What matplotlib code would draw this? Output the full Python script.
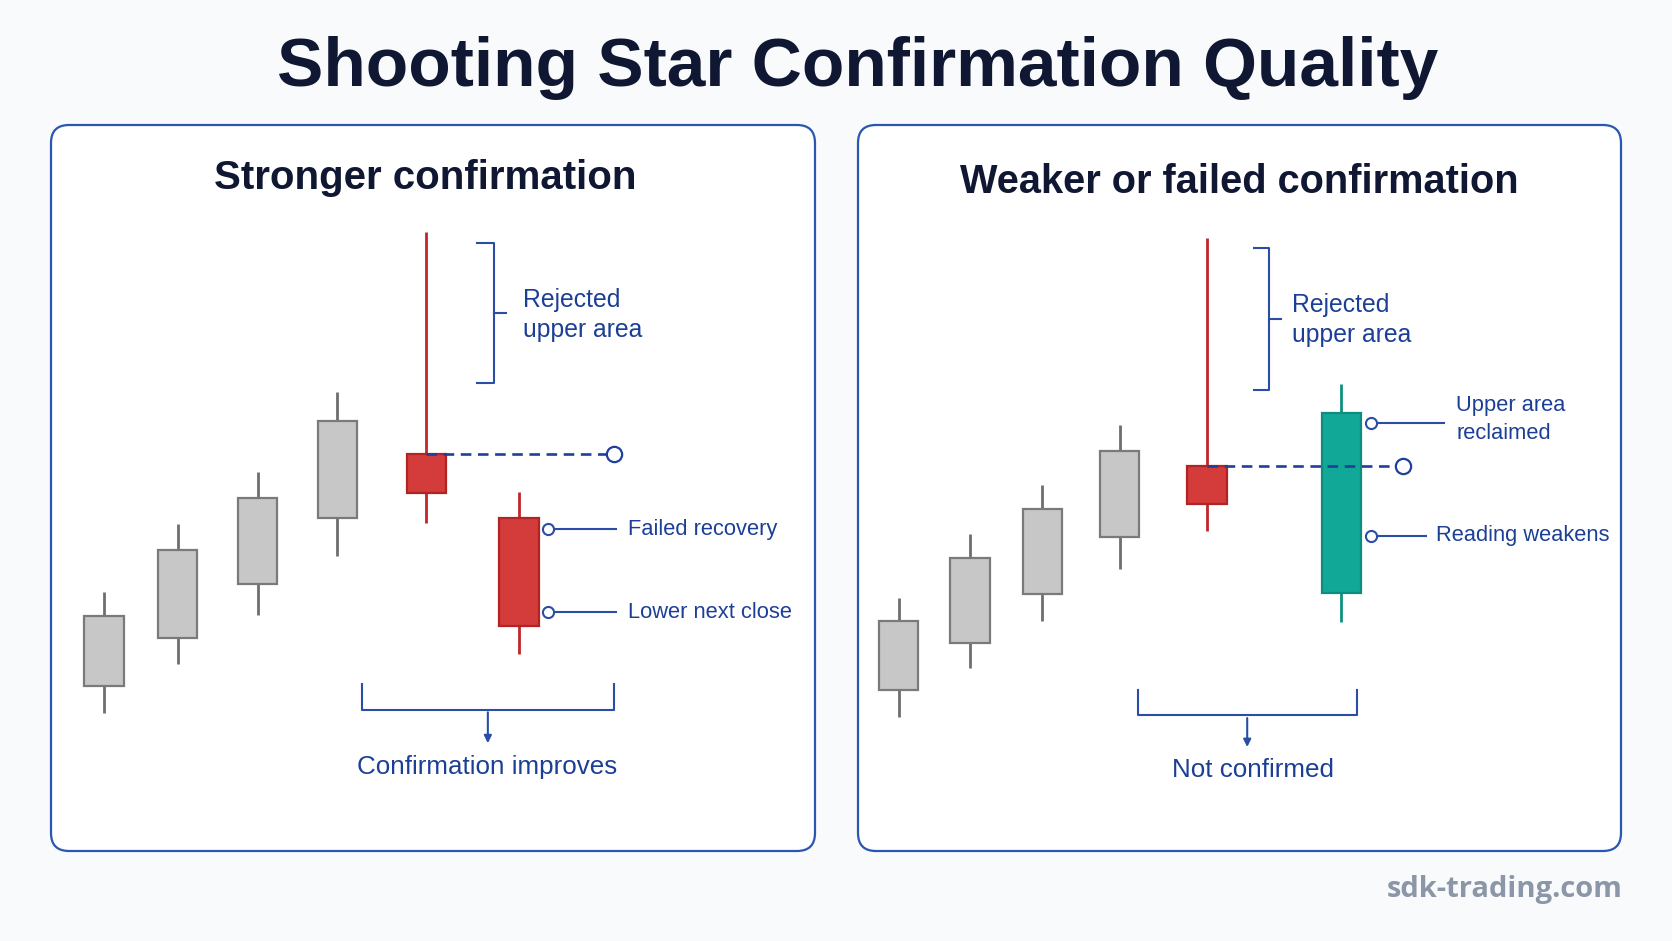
import matplotlib
matplotlib.use('Agg')
import matplotlib.pyplot as plt
from matplotlib.patches import FancyBboxPatch, Rectangle
from matplotlib import font_manager

W, H = 1672, 941
NAVY = '#1c3f96'
LINE = '#2a4ea6'
INK = '#0f1733'

names = {f.name for f in font_manager.fontManager.ttflist}
if 'Liberation Sans Narrow' in names:
    NARROW, K = 'Liberation Sans Narrow', 1.0
else:
    NARROW, K = 'Liberation Sans', 0.85

# --- data (price units) ---
left_pos = [0, 0.88, 1.83, 2.78, 3.84, 4.94]
left_open = [11.4, 16.2, 21.6, 28.2, 34.6, 28.2]
left_high = [20.8, 27.6, 32.8, 40.8, 56.8, 30.8]
left_low = [8.7, 13.6, 18.5, 24.4, 27.7, 14.6]
left_close = [18.4, 25.0, 30.2, 37.9, 30.7, 17.4]
left_kind = ['gray', 'gray', 'gray', 'gray', 'red', 'red']

right_pos = [0, 0.85, 1.71, 2.63, 3.67, 5.27]
right_open = [11.0, 15.7, 20.6, 26.3, 33.4, 20.7]
right_high = [20.2, 26.6, 31.5, 37.5, 56.2, 41.6]
right_low = [8.3, 13.2, 17.9, 23.1, 26.9, 17.8]
right_close = [17.9, 24.2, 29.1, 34.9, 29.6, 38.7]
right_kind = ['gray', 'gray', 'gray', 'gray', 'red', 'teal']

STYLE = {
    'gray': ('#c7c7c7', '#7a7a7a', '#6e6e6e'),
    'red': ('#d43b3b', '#b02424', '#c0262a'),
    'teal': ('#12a898', '#0d8c80', '#10907f'),
}

fig = plt.figure(figsize=(W / 100, H / 100), dpi=100)
fig.patch.set_facecolor('#f9fafb')

bg = fig.add_axes([0, 0, 1, 1])
bg.set_xlim(0, W); bg.set_ylim(H, 0); bg.axis('off')

for x0, x1 in [(51, 815), (858, 1621)]:
    bg.add_patch(FancyBboxPatch((x0, 125), x1 - x0, 726,
                 boxstyle="round,pad=0,rounding_size=18",
                 fc='white', ec='#2a55b0', lw=1.6))

bg.text(858, 68, 'Shooting Star Confirmation Quality', ha='center', va='center',
        fontsize=50, fontweight='bold', color=INK, family='Liberation Sans')
bg.text(425, 178, 'Stronger confirmation', ha='center', va='center',
        fontsize=29, fontweight='bold', color=INK, family='Liberation Sans')
bg.text(1239, 182, 'Weaker or failed confirmation', ha='center', va='center',
        fontsize=28.6, fontweight='bold', color=INK, family='Liberation Sans')
bg.text(1623, 890, 'sdk-trading.com', ha='right', va='center',
        fontsize=21, fontweight='bold', color='#8b96a8', family='Open Sans')


def panel(x0):
    ax = fig.add_axes([0, 0, 1, 1])
    ax.set_xlim(-x0 / 84, (W - x0) / 84)
    ax.set_ylim((800 - H) / 10, 80)
    ax.axis('off')
    ax.patch.set_alpha(0)
    return ax


def candles(ax, pos, o, h, l, c, kind, bw=0.47):
    for x, op, hi, lo, cl, k in zip(pos, o, h, l, c, kind):
        fc, ec, wc = STYLE[k]
        ax.vlines(x, lo, hi, color=wc, lw=2.0, zorder=2)
        ax.add_patch(Rectangle((x - bw / 2, min(op, cl)), bw, abs(cl - op),
                               fc=fc, ec=ec, lw=1.6, zorder=3))


def dashed(ax, x0, x1, y):
    ax.plot([x0, x1], [y, y], color='#1f3f9a', lw=1.9, ls=(0, (4, 2.5)), zorder=5)
    ax.plot([x1], [y], 'o', ms=11, mfc='white', mec='#1f3f9a', mew=1.6, zorder=6)


def side_bracket(ax, x, y0, y1, tick, mid):
    ax.plot([x - tick, x, x, x - tick], [y1, y1, y0, y0], color=LINE, lw=1.5)
    ym = (y0 + y1) / 2
    ax.plot([x, x + mid], [ym, ym], color=LINE, lw=1.5)


def callout(ax, xc, xe, y, txt, xt, yt=None, ls=1.45):
    ax.plot([xc, xe], [y, y], color=LINE, lw=1.5, zorder=5)
    ax.plot([xc], [y], 'o', ms=8, mfc='white', mec=LINE, mew=1.5, zorder=6)
    ax.text(xt, y if yt is None else yt, txt, ha='left', va='center', color=NAVY,
            fontsize=18.5 * K, family=NARROW, linespacing=ls)


def bottom_bracket(ax, xa, xb, ytop, ybot, yarr, txt, xt, yt):
    ax.plot([xa, xa, xb, xb], [ytop, ybot, ybot, ytop], color=LINE, lw=1.5)
    xm = (xa + xb) / 2
    ax.annotate('', xy=(xm, yarr), xytext=(xm, ybot),
                arrowprops=dict(arrowstyle='-|>', color=LINE, lw=1.5, mutation_scale=11))
    ax.text(xt, yt, txt, ha='center', va='center', color=NAVY,
            fontsize=22 * K, family=NARROW)


# ---------------- left panel ----------------
axl = panel(103.8)
candles(axl, left_pos, left_open, left_high, left_low, left_close, left_kind)
dashed(axl, left_pos[4], 6.07, left_open[4])
side_bracket(axl, 4.645, 41.7, 55.75, 0.2, 0.14)
axl.text(4.985, 48.5, 'Rejected\nupper area', ha='left', va='center', color=NAVY,
         fontsize=21 * K, family=NARROW, linespacing=1.32)
callout(axl, 5.286, 6.094, 27.1, 'Failed recovery', 6.24)
callout(axl, 5.286, 6.094, 18.76, 'Lower next close', 6.24)
bottom_bracket(axl, 3.074, 6.07, 11.6, 9.05, 5.4, 'Confirmation improves', 4.56, 3.3)

# ---------------- right panel ----------------
axr = panel(898.6)
candles(axr, right_pos, right_open, right_high, right_low, right_close, right_kind)
dashed(axr, right_pos[4], 6.01, right_open[4])
side_bracket(axr, 4.41, 41.0, 55.2, 0.185, 0.147)
axr.text(4.683, 48.0, 'Rejected\nupper area', ha='left', va='center', color=NAVY,
         fontsize=21 * K, family=NARROW, linespacing=1.32)
callout(axr, 5.618, 6.493, 37.74, 'Upper area\nreclaimed', 6.636, 38.06)
callout(axr, 5.618, 6.275, 26.43, 'Reading weakens', 6.4)
bottom_bracket(axr, 2.845, 5.455, 11.0, 8.47, 5.02, 'Not confirmed', 4.225, 3.0)

fig.savefig('out.png', dpi=100, facecolor=fig.get_facecolor())
